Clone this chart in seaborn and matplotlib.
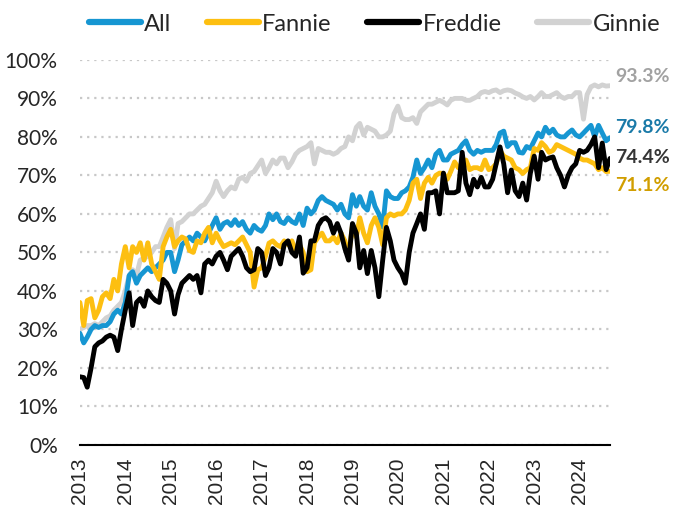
import pandas as pd
import numpy as np
import seaborn as sns
import matplotlib.pyplot as plt
import matplotlib.dates as mdates
from matplotlib.ticker import PercentFormatter

# monthly shares, Jan 2013 - Sep 2024
dates = pd.date_range("2013-01-01", periods=141, freq="MS")

all_share = [
    29, 26.5, 28, 30, 31, 30.5, 31, 31, 32, 34, 35, 34,
    37, 44, 45, 42, 44, 45, 46, 45, 46, 47, 48, 50,
    50, 45, 48, 52, 53, 54, 53, 55, 54, 53, 55, 57,
    59, 56, 57.5, 58, 57, 58.5, 57, 58, 56, 55, 57, 56,
    55.5, 57, 60, 58.5, 60, 58, 57.5, 59, 58, 57.5, 60, 57,
    61.5, 60, 61, 63.5, 64.5, 63.5, 63, 62.5, 61, 62.5, 60, 59,
    65, 62, 64.5, 62, 61, 65.5, 62, 60, 56.6, 66, 64.5, 64,
    64, 65.5, 66, 67, 69.5, 74, 70.5, 72, 74, 72, 75.5, 76.5,
    74, 74, 75.5, 76, 76.5, 78, 79, 76.5, 75.5, 76.5, 76, 76.5,
    76.5, 76.5, 78, 81, 81.5, 77.5, 78.5, 78.5, 76, 75.8, 77.5, 77,
    79, 81, 80, 82.5, 81, 82, 80.5, 80, 80, 81, 81.8, 80.5,
    80, 81, 82, 83, 80, 83, 81, 79, 79.8,
]

fannie = [
    37, 31, 37.5, 38, 33, 35, 38.5, 39.5, 38, 43, 40, 47,
    51.5, 46, 51.5, 50, 52.5, 48, 52.5, 47, 45, 43, 51.5, 54,
    56, 51.5, 53, 54, 53.5, 50.5, 50, 53, 52.5, 55, 56.5, 52.5,
    55, 53, 51.5, 52, 52.5, 52, 53, 54, 52, 50, 41, 45.5,
    46, 49, 52.4, 53, 52, 51.5, 53, 52, 53, 50.5, 52, 50,
    45, 45.5, 52.5, 54, 55, 53, 53, 54, 52.5, 55, 53, 49,
    57, 54, 59, 55, 52.5, 57, 59, 56.5, 52, 59, 60, 59.5,
    60, 60, 61, 63.5, 68, 69, 64, 68, 69.5, 68, 70, 70.6,
    70.5, 69, 71, 73.5, 72, 72, 74, 71.5, 72, 72, 71.5, 74,
    71.5, 72, 73, 76.5, 75, 74.5, 74, 72, 71.5, 70.5, 71.5, 72,
    77, 76.5, 78.5, 77.5, 76, 76.5, 78, 77.5, 77, 76.5, 76, 75.5,
    74.5, 74, 74, 73.5, 73, 71.5, 72, 71, 71.1,
]

freddie = [
    17.7, 17.5, 15, 20, 25.5, 26.5, 27, 28, 28.5, 28, 24.5, 30,
    35, 39.5, 31, 37, 38, 36, 40, 38.5, 37.5, 37, 43, 42,
    40, 34, 39, 42, 43, 44, 43, 44, 39.5, 47, 48, 47,
    49, 50, 48, 45.5, 49, 50, 51, 49, 46, 45, 45.5, 51,
    50, 44, 46, 51, 50, 47, 52, 53, 50, 49, 54, 44.6,
    46, 53, 53, 57, 58.5, 59, 58, 55, 57.5, 55, 51, 48,
    57.5, 55, 46, 50.5, 44.5, 50.5, 46, 38.5, 48, 56.5, 53, 48,
    46, 44.5, 42, 50, 55, 57.5, 60, 56, 65.5, 65.5, 66, 60,
    70.6, 65.5, 65.5, 65.5, 66, 76, 68, 65, 69, 67, 69.5, 67,
    67, 69, 73, 77.4, 73, 65.5, 71.4, 66, 64.5, 68, 63.6, 70.6,
    75, 69, 76, 74, 74.5, 74.8, 72, 70, 67, 70, 72, 73,
    76.5, 76, 76.5, 78, 80, 72, 78.4, 71.5, 74.4,
]

ginnie = [
    30, 30.5, 31, 31, 31.5, 31, 32, 33, 33.5, 35, 36, 37,
    40, 44, 45.5, 44, 48, 48.5, 49, 50, 51.5, 51.5, 54, 56.5,
    58.5, 51, 57.5, 58, 59, 60, 60, 61, 62, 62.5, 64, 65.5,
    68.5, 66, 64.5, 66, 67, 66.5, 69, 69.5, 68.5, 70.5, 71, 72.5,
    74, 70.5, 72, 74, 73, 74.5, 74.5, 72, 73.5, 75.5, 76.5, 77,
    77.5, 78.5, 73, 77, 76.5, 76, 76, 75.5, 76, 77, 77.5, 80,
    79, 82.5, 83.5, 80.5, 82.5, 82, 81.5, 80, 80, 80.5, 81.5, 86,
    88, 85, 84.5, 84.5, 85, 83.5, 86.5, 87.5, 88.5, 88.5, 89, 89.5,
    89, 88.3, 89.5, 90, 90, 90, 89.5, 89.5, 90, 90.5, 91.5, 91.8,
    91.5, 92, 92.2, 91.5, 92, 92.2, 92, 91.4, 91, 90.4, 90, 90.5,
    89.6, 90.5, 91.5, 90.5, 90.5, 91, 91.5, 90.5, 90, 90.5, 90.5, 91.5,
    91.5, 84.6, 91, 93, 93.5, 93, 93.5, 93.2, 93.3,
]

series_names = ["All", "Fannie", "Freddie", "Ginnie"]
line_colors = {"All": "#1696d2", "Fannie": "#fdbf11", "Freddie": "#000000", "Ginnie": "#d2d2d2"}
label_colors = {"All": "#1a7aa8", "Fannie": "#d19e00", "Freddie": "#353535", "Ginnie": "#a2a2a2"}
label_offsets = {"All": 7, "Fannie": -10, "Freddie": 1, "Ginnie": 6.5}

df = pd.DataFrame({"date": dates, "All": all_share, "Fannie": fannie,
                   "Freddie": freddie, "Ginnie": ginnie})
long_df = df.melt(id_vars="date", var_name="series", value_name="share")

sns.set_style("white")
plt.rcParams["font.family"] = ["Lato", "DejaVu Sans"]

fig = plt.figure(figsize=(6.77, 5.12), dpi=100)
ax = fig.add_axes([0.118, 0.131, 0.783, 0.752])

# draw back to front: grey first so the others sit on top
order = ["Ginnie", "All", "Fannie", "Freddie"]
for name in order:
    sub = long_df[long_df["series"] == name]
    sns.lineplot(data=sub, x="date", y="share", color=line_colors[name],
                 linewidth=3.5, ax=ax, legend=False)

ax.set_ylim(0, 100)
ax.set_xlim(dates[0], dates[-1])
ax.yaxis.set_major_formatter(PercentFormatter(decimals=0))
ax.set_yticks(range(0, 101, 10))
ax.xaxis.set_major_locator(mdates.YearLocator())
ax.xaxis.set_major_formatter(mdates.DateFormatter("%Y"))
ax.set_xlabel("")
ax.set_ylabel("")

ax.grid(axis="y", linestyle=(0, (1, 2.2)), color="#c8c8c8", linewidth=1.6)
ax.grid(axis="x", visible=False)
ax.set_axisbelow(True)
for side in ["left", "right", "top"]:
    ax.spines[side].set_visible(False)
ax.spines["bottom"].set_color("black")
ax.spines["bottom"].set_linewidth(1.5)
ax.tick_params(axis="x", direction="out", length=6, width=1.5, color="black",
               labelsize=15, rotation=90, pad=3)
ax.tick_params(axis="y", length=0, labelsize=15, pad=16)
for lbl in ax.get_xticklabels():
    lbl.set_family(["Liberation Sans", "DejaVu Sans"])
for lbl in ax.get_yticklabels():
    lbl.set_horizontalalignment("right")

# end-of-line value labels
for name in series_names:
    last = df[name].iloc[-1]
    ax.annotate(f"{last:.1f}%", xy=(dates[-1], last), xytext=(4, label_offsets[name]),
                textcoords="offset points", va="center", ha="left",
                fontsize=14, fontweight="bold", color=label_colors[name],
                annotation_clip=False)

handles = [plt.Line2D([0], [0], color=line_colors[n], linewidth=4.5, solid_capstyle="round")
           for n in series_names]
fig.legend(handles, series_names, loc="upper center", bbox_to_anchor=(0.553, 1.015),
           ncol=4, frameon=False, fontsize=17, handlelength=2.2,
           handletextpad=0.15, columnspacing=1.5)

fig.savefig("out.png", dpi=100)
